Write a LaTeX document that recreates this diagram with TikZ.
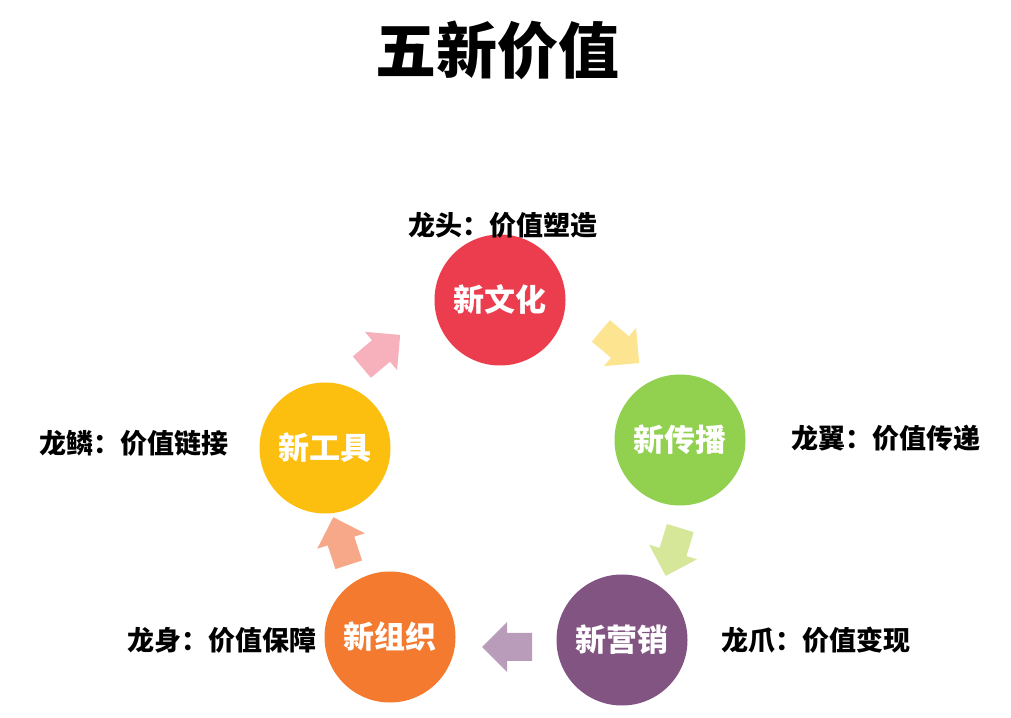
\documentclass[tikz,border=0pt]{standalone}
\usepackage{fontspec}
\setmainfont{Noto Sans CJK SC}
\definecolor{cred}{HTML}{EC3D4E}
\definecolor{cgreen}{HTML}{92D050}
\definecolor{cpurple}{HTML}{825482}
\definecolor{corange}{HTML}{F47A2F}
\definecolor{cyellow}{HTML}{FCBF0F}
\definecolor{apink}{HTML}{F7B1BC}
\definecolor{ayellow}{HTML}{FCE490}
\definecolor{agreen}{HTML}{D6E79A}
\definecolor{apurple}{HTML}{B99BBA}
\definecolor{asalmon}{HTML}{F6A888}
\tikzset{
  disc/.style={circle, draw=none, inner sep=0pt, minimum size=131pt, text=white, font=\bfseries\fontsize{31}{31}\selectfont},
  lbl/.style={inner sep=0pt, text=black, font=\bfseries\fontsize{27}{27}\selectfont},
  ttl/.style={inner sep=0pt, text=black, font=\bfseries\fontsize{61}{61}\selectfont}
}
\newcommand\blkarrow[3]{\fill[#1, shift={(#2)}, rotate=#3] (-25,-14) -- (0,-14) -- (0,-25) -- (25,0) -- (0,25) -- (0,14) -- (-25,14) -- cycle;}
\begin{document}
\begin{tikzpicture}[x=1pt,y=1pt]
\fill[white] (0,0) rectangle (1011,717);
\useasboundingbox (0,0) rectangle (1011,717);
\node[ttl] (title) at (497,667) {五新价值};
\node[disc, fill=cred] (wh) at (500,417) {新文化};
\node[disc, fill=cgreen] (cb) at (680,277) {新传播};
\node[disc, fill=cpurple] (yx) at (622,77) {新营销};
\node[disc, fill=corange] (zz) at (390,80) {新组织};
\node[disc, fill=cyellow] (gj) at (325,269) {新工具};
\node[lbl] (l1) at (503,492) {龙头：价值塑造};
\node[lbl] (l2) at (886,279) {龙翼：价值传递};
\node[lbl] (l3) at (816,77) {龙爪：价值变现};
\node[lbl] (l4) at (222,77) {龙身：价值保障};
\node[lbl] (l5) at (134,274) {龙鳞：价值链接};
\blkarrow{apink}{381,366}{40}
\blkarrow{ayellow}{620,370}{-40}
\blkarrow{agreen}{673,165}{-107}
\blkarrow{apurple}{507,70}{180}
\blkarrow{asalmon}{341,176}{108}
\end{tikzpicture}
\end{document}
